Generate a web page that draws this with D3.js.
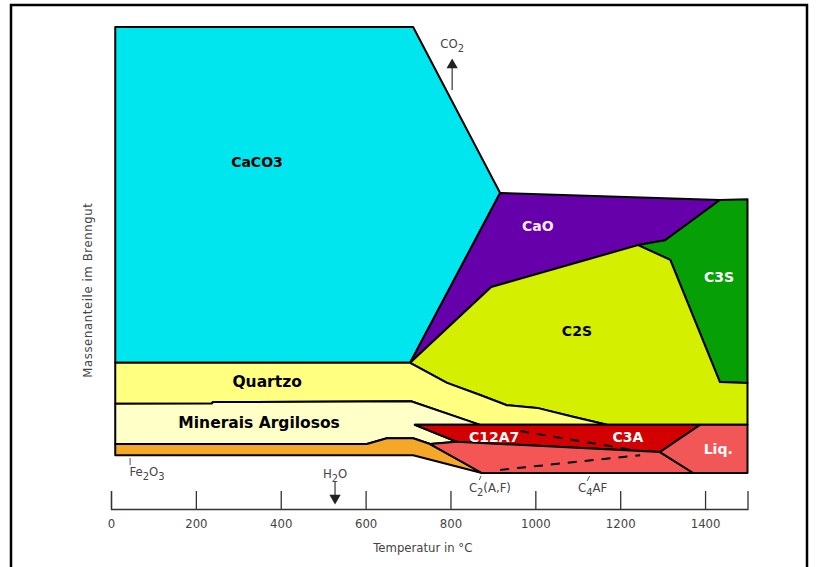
<!DOCTYPE html>
<html>
<head>
<meta charset="utf-8">
<script src="https://cdn.jsdelivr.net/npm/d3@7"></script>
<style>
  body { margin: 0; background: #ffffff; }
  svg { display: block; }
</style>
</head>
<body>
<svg id="chart" width="816" height="567"></svg>
<script>
// Phase fields of the clinker burn: [temperature °C, mass share %]
const caco3    = [[10,100],[712,100],[917,62.8],[705,24.7],[10,24.7]];
const cao      = [[917,62.8],[1435,61.2],[1306,52.2],[1242,51.1],[896,41.7],[705,24.7]];
const c3s      = [[1242,51.1],[1306,52.2],[1435,61.2],[1500,61.4],[1500,20.2],[1435,20.4],[1318,47.8]];
const c2s      = [[705,24.7],[896,41.7],[1242,51.1],[1318,47.8],[1435,20.4],[1500,20.2],[1500,10.8],
                  [1169,10.8],[1089,12.6],[1004,14.6],[933,15.2],[870,17.5],[792,20.2]];
const quartzo  = [[10,24.7],[705,24.7],[792,20.2],[870,17.5],[933,15.2],[1004,14.6],[1089,12.6],
                  [1169,10.8],[870,10.8],[707,16.1],[240,15.9],[238,15.6],[10,15.5]];
const minerais = [[10,15.5],[238,15.6],[240,15.9],[707,16.1],[870,10.8],[716,10.8],[815,7.0],
                  [752,6.5],[712,7.8],[650,7.8],[603,6.5],[10,6.5]];
const fe2o3    = [[10,6.5],[603,6.5],[650,7.8],[712,7.8],[752,6.5],[874,0],[712,4.0],[10,4.0]];
const c12a7c3a = [[716,10.8],[1388,10.8],[1294,4.7],[815,7.0]];
const c2af     = [[752,6.5],[815,7.0],[1294,4.7],[1372,0],[874,0]];
const liq      = [[1388,10.8],[1500,10.8],[1500,0],[1372,0],[1294,4.7]];

// dashed transitions inside the aluminate / ferrite fields
const aluminateSplit = [[964,9.4],[1247,4.9]];
const ferriteSplit   = [[917,0.7],[1247,4.0]];

const phaseNames  = ["CaCO3","CaO","C3S","C2S","Quartzo","Minerais Argilosos","Fe2O3","C12A7/C3A","C2(A,F)/C4AF","Liq."];
const phaseShapes = [caco3, cao, c3s, c2s, quartzo, minerais, fe2o3, c12a7c3a, c2af, liq];
const phaseFills  = ["#00e6ee","#6600aa","#06a006","#d4f000","#ffff80","#ffffc8","#f5a828","#d20000","#f45656","#f25757"];

// field labels: text, temperature, share
const labelTexts = ["CaCO3","CaO","C2S","C3S","Quartzo","Minerais Argilosos","C12A7","C3A","Liq."];
const labelTemps = [344, 1006, 1098, 1433, 368, 349, 903, 1218, 1431];
const labelShares= [69.7, 55.4, 31.8, 43.9, 20.4, 11.2, 8.1, 8.1, 5.4];
const labelInk   = ["#000","#fbeefb","#000","#fff","#000","#000","#fff","#fff","#fff"];

const tempTicks = [0, 200, 400, 600, 800, 1000, 1200, 1400];
const tempDomain = [0, 1500];

const svg = d3.select("#chart");
const x = d3.scaleLinear().domain(tempDomain).range([111, 747.5]);
const y = d3.scaleLinear().domain([0, 100]).range([473, 27]);

// outer frame
svg.append("rect")
  .attr("x", 11).attr("y", 5).attr("width", 796).attr("height", 570)
  .attr("fill", "#fff").attr("stroke", "#000").attr("stroke-width", 2.5);

const line = d3.line().x(d => x(d[0])).y(d => y(d[1]));
const closed = d3.line().x(d => x(d[0])).y(d => y(d[1])).curve(d3.curveLinearClosed);

svg.append("g").selectAll("path")
  .data(phaseShapes)
  .join("path")
  .attr("d", d => closed(d))
  .attr("fill", (d, i) => phaseFills[i])
  .attr("stroke", "#000")
  .attr("stroke-width", 2)
  .attr("stroke-linejoin", "round");

svg.append("g").selectAll("path")
  .data([aluminateSplit, ferriteSplit])
  .join("path")
  .attr("d", d => line(d))
  .attr("fill", "none")
  .attr("stroke", "#000")
  .attr("stroke-width", 2)
  .attr("stroke-dasharray", "9,8");

svg.append("g").selectAll("text")
  .data(labelTexts)
  .join("text")
  .attr("x", (d, i) => x(labelTemps[i]))
  .attr("y", (d, i) => y(labelShares[i]))
  .attr("text-anchor", "middle")
  .attr("dominant-baseline", "central")
  .attr("font-family", "'DejaVu Sans', Verdana, sans-serif")
  .attr("font-weight", "bold")
  .attr("font-size", (d, i) => (i === 4 || i === 5) ? 15.5 : 14)
  .attr("fill", (d, i) => labelInk[i])
  .text(d => d);

// temperature axis: ticks point upward, labels underneath
const axis = d3.axisBottom(x)
  .tickValues(tempTicks)
  .tickSizeInner(-18)
  .tickSizeOuter(-18)
  .tickPadding(10)
  .tickFormat(d3.format("d"));

const gx = svg.append("g").attr("transform", "translate(0,509)").call(axis);
gx.selectAll("path, line").attr("stroke", "#333").attr("stroke-width", 1.3);
gx.selectAll("text")
  .attr("font-family", "'DejaVu Sans Condensed', 'DejaVu Sans', sans-serif")
  .attr("font-size", 13).attr("fill", "#444");

const noteFont = "'DejaVu Sans Condensed', 'DejaVu Sans', sans-serif";

svg.append("text")
  .attr("x", x(735)).attr("y", 552)
  .attr("text-anchor", "middle")
  .attr("font-family", noteFont).attr("font-size", 13).attr("fill", "#444")
  .text("Temperatur in °C");

svg.append("text")
  .attr("transform", `translate(92,${y(41)}) rotate(-90)`)
  .attr("text-anchor", "middle")
  .attr("font-family", noteFont).attr("font-size", 13).attr("letter-spacing", 0.6)
  .attr("fill", "#444")
  .text("Massenanteile im Brenngut");

// chemical notes with subscripts
function formula(parts, px, py) {
  const t = svg.append("text")
    .attr("x", px).attr("y", py)
    .attr("text-anchor", "middle")
    .attr("font-family", noteFont).attr("font-size", 13).attr("fill", "#444");
  parts.forEach(p => {
    const s = t.append("tspan").text(p[0]);
    if (p[1]) s.attr("font-size", 11).attr("dy", 4);
    else if (p[2]) s.attr("dy", -4);
  });
  return t;
}

formula([["CO"],["2",1]], x(804), 48);
formula([["H"],["2",1],["O",0,1]], x(528), 478);
formula([["Fe"],["2",1],["O",0,1],["3",1]], x(85), 476);
formula([["C"],["2",1],["(A,F)",0,1]], x(893), 492);
formula([["C"],["4",1],["AF",0,1]], x(1135), 492);

// gas release arrows
const arrowHead = d3.symbol().type(d3.symbolTriangle).size(55);
svg.append("line")
  .attr("x1", x(804)).attr("x2", x(804)).attr("y1", 90).attr("y2", 64)
  .attr("stroke", "#444").attr("stroke-width", 1.3);
svg.append("path").attr("d", arrowHead())
  .attr("transform", `translate(${x(804)},65)`).attr("fill", "#222");

svg.append("line")
  .attr("x1", x(528)).attr("x2", x(528)).attr("y1", 482).attr("y2", 498)
  .attr("stroke", "#444").attr("stroke-width", 1.3);
svg.append("path").attr("d", arrowHead())
  .attr("transform", `translate(${x(528)},498) rotate(180)`).attr("fill", "#222");

// small pointer ticks
svg.append("line")
  .attr("x1", x(45)).attr("x2", x(45)).attr("y1", 458).attr("y2", 465)
  .attr("stroke", "#555").attr("stroke-width", 1);
svg.append("line")
  .attr("x1", x(868)).attr("x2", x(872)).attr("y1", 480).attr("y2", 476)
  .attr("stroke", "#555").attr("stroke-width", 1);
svg.append("line")
  .attr("x1", x(1122)).attr("x2", x(1128)).attr("y1", 481).attr("y2", 476)
  .attr("stroke", "#555").attr("stroke-width", 1);
</script>
</body>
</html>
